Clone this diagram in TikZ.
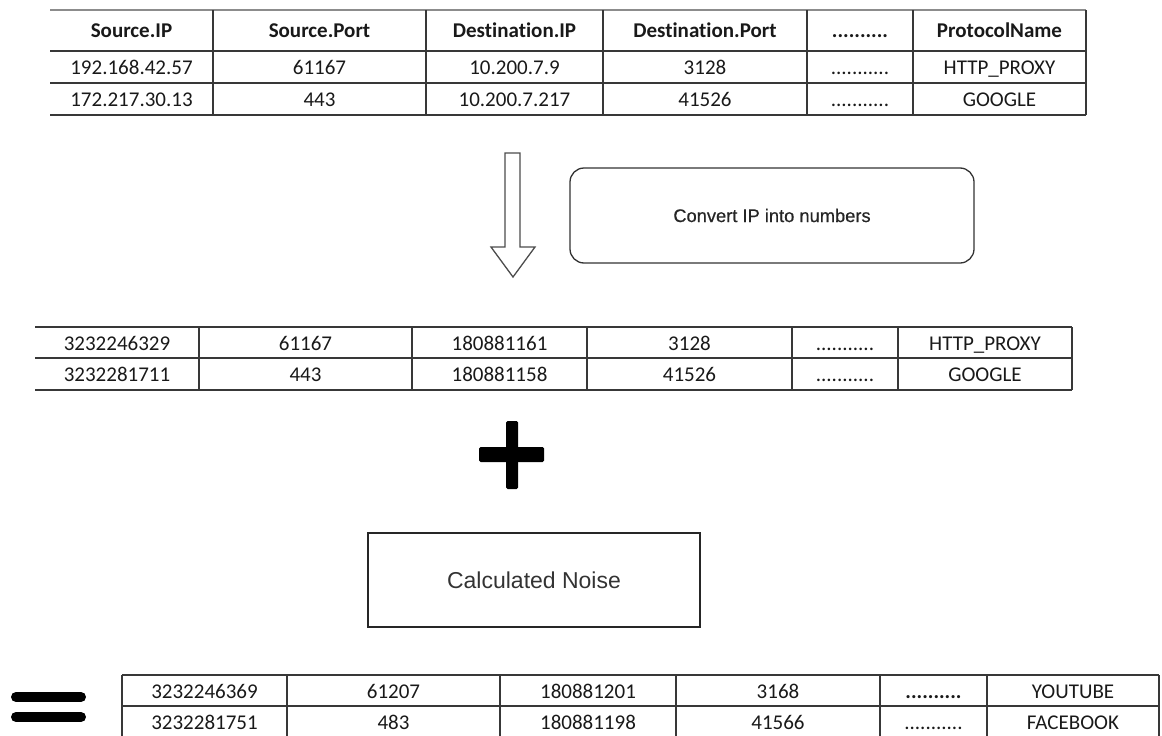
\documentclass[tikz,border=0pt]{standalone}
\usepackage{fontspec}
\setmainfont[Ligatures=NoCommon]{Carlito}
\newfontfamily\boxfont{Liberation Sans}
\newfontfamily\stepfont[FakeBold=0.5]{Liberation Sans}
\begin{document}
\begin{tikzpicture}[x=1pt,y=-1pt,
  rule/.style={line width=1.4pt,draw=black!78},
  toprule/.style={line width=1.2pt,draw=black!45},
  cell/.style={inner sep=0pt,font=\fontsize{21}{23}\selectfont,text=black!90,
               text height=0.62em,text depth=0pt,anchor=center,yshift=-2.5pt},
  headcell/.style={cell,font=\fontsize{21}{23}\selectfont\bfseries},
  stepbox/.style={draw=black!80,line width=1.3pt,inner sep=0pt,
                  font=\stepfont\fontsize{18.3}{20}\selectfont,text=black!85},
  noisebox/.style={draw=black!85,line width=1.3pt,inner sep=0pt,
                   font=\boxfont\fontsize{23}{25}\selectfont,text=black!80},
  hollow/.style={draw=black!70,line width=1.3pt,fill=white,line join=miter},
  solidmark/.style={fill=black,draw=none}]
\useasboundingbox (0,0) rectangle (1162,736);
\clip (0,0) rectangle (1162,736);

% ---------- original flow records ----------
\draw[toprule] (50,10) -- (1086,10);
\foreach \y in {51,83,115} \draw[rule] (50,\y) -- (1086,\y);
\foreach \x in {213,426,603,807,913,1086} \draw[rule] (\x,10) -- (\x,115);

\node[headcell] (h1) at (131.5,32) {Source.IP};
\node[headcell] (h2) at (319.5,32) {Source.Port};
\node[headcell] (h3) at (514.5,32) {Destination.IP};
\node[headcell] (h4) at (705,32) {Destination.Port};
\node[headcell] (h5) at (860,32) {..........};
\node[headcell] (h6) at (999.5,32) {ProtocolName};

\node[cell] (a1) at (131.5,69) {192.168.42.57};
\node[cell] (a2) at (319.5,69) {61167};
\node[cell] (a3) at (514.5,69) {10.200.7.9};
\node[cell] (a4) at (705,69) {3128};
\node[cell] (a5) at (860,69) {...........};
\node[cell] (a6) at (999.5,69) {HTTP\_PROXY};

\node[cell] (b1) at (131.5,101) {172.217.30.13};
\node[cell] (b2) at (319.5,101) {443};
\node[cell] (b3) at (514.5,101) {10.200.7.217};
\node[cell] (b4) at (705,101) {41526};
\node[cell] (b5) at (860,101) {...........};
\node[cell] (b6) at (999.5,101) {GOOGLE};

% ---------- conversion step ----------
\coordinate (shaft) at (512.5,153);
\draw[hollow] ([xshift=-7.5pt]shaft) -- ([xshift=7.5pt]shaft)
  -- ++(0,94) -- ++(15,0) -- (513,277) -- (491,247) -- ++(14,0) -- cycle;

\node[stepbox,rounded corners=14pt,minimum width=404pt,minimum height=95pt]
  (convert) at (772,215.5) {Convert IP into numbers};

% ---------- numeric records ----------
\foreach \y in {327,358,390} \draw[rule] (35,\y) -- (1072,\y);
\foreach \x in {199,412,587,792,898,1072} \draw[rule] (\x,327) -- (\x,390);

\node[cell] (c1) at (117,344.5) {3232246329};
\node[cell] (c2) at (305.5,344.5) {61167};
\node[cell] (c3) at (499.5,344.5) {180881161};
\node[cell] (c4) at (689.5,344.5) {3128};
\node[cell] (c5) at (845,344.5) {...........};
\node[cell] (c6) at (985,344.5) {HTTP\_PROXY};

\node[cell] (d1) at (117,376) {3232281711};
\node[cell] (d2) at (305.5,376) {443};
\node[cell] (d3) at (499.5,376) {180881158};
\node[cell] (d4) at (689.5,376) {41526};
\node[cell] (d5) at (845,376) {...........};
\node[cell] (d6) at (985,376) {GOOGLE};

% ---------- plus sign ----------
\fill[solidmark,rounded corners=1.5pt] (506,421) rectangle (518,489);
\fill[solidmark,rounded corners=1.5pt] (479,447) rectangle (544,462);

% ---------- noise ----------
\node[noisebox,minimum width=332pt,minimum height=94pt] (noise) at (534,580) {Calculated Noise};

% ---------- equals sign ----------
\draw[line width=10pt,line cap=round] (16,697) -- (81,697);
\draw[line width=10pt,line cap=round] (16,717) -- (81,717);

% ---------- noisy records ----------
\foreach \y in {675,706,738} \draw[rule] (122,\y) -- (1159,\y);
\foreach \x in {122,287,500,676,880,987,1159} \draw[rule] (\x,675) -- (\x,738);

\node[cell] (e1) at (204.5,692.5) {3232246369};
\node[cell] (e2) at (393.5,692.5) {61207};
\node[cell] (e3) at (588,692.5) {180881201};
\node[cell] (e4) at (778,692.5) {3168};
\node[cell,font=\fontsize{21}{23}\selectfont\bfseries] (e5) at (933.5,692.5) {..........};
\node[cell] (e6) at (1073,692.5) {YOUTUBE};

\node[cell] (f1) at (204.5,724) {3232281751};
\node[cell] (f2) at (393.5,724) {483};
\node[cell] (f3) at (588,724) {180881198};
\node[cell] (f4) at (778,724) {41566};
\node[cell] (f5) at (933.5,724) {...........};
\node[cell] (f6) at (1073,724) {FACEBOOK};
\end{tikzpicture}
\end{document}
